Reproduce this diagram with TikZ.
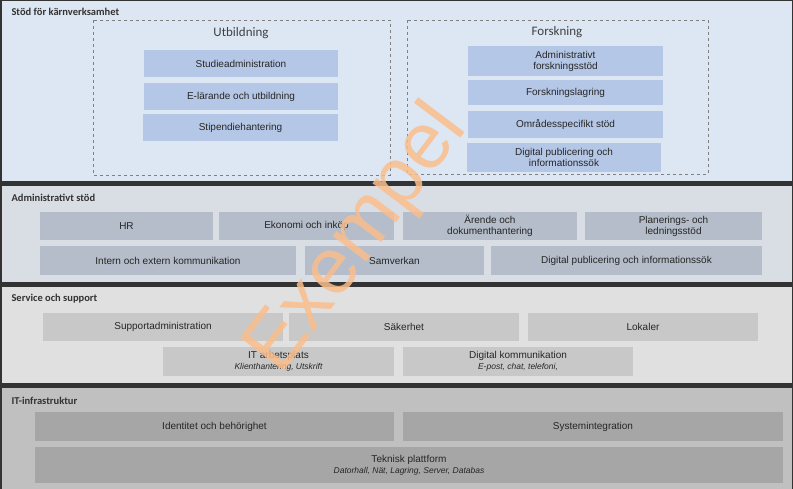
\documentclass[tikz,border=0pt]{standalone}
\usepackage{fontspec}
\setmainfont{Liberation Sans}
\newfontfamily\carlfont{Carlito}
\definecolor{cbga}{RGB}{221,231,244}
\definecolor{cbgb}{RGB}{217,222,229}
\definecolor{cbgc}{RGB}{224,224,224}
\definecolor{cbgd}{RGB}{192,192,192}
\definecolor{cbu}{RGB}{181,199,230}
\definecolor{cba}{RGB}{180,189,201}
\definecolor{cbs}{RGB}{200,200,200}
\definecolor{cbi}{RGB}{166,166,166}
\definecolor{cwm}{RGB}{250,190,140}
\begin{document}
\begin{tikzpicture}[x=1pt,y=-1pt,
 seclab/.style={anchor=west,font=\carlfont\bfseries\fontsize{10.5}{12}\selectfont,text=black!80},
 bx/.style={fill=#1,draw=none},
 bt/.style={font=\fontsize{10}{11}\selectfont,align=center,text=black!85,inner sep=0pt},
 grp/.style={draw=black!50,dashed,thin},
 ttl/.style={font=\carlfont\fontsize{13}{15}\selectfont,text=black!75}]
\useasboundingbox (0,0) rectangle (793,489);
\fill[black!80] (0,0) rectangle (793,489);
\fill[cbga] (1.5,1.5) rectangle (791.5,181.5);
\fill[cbgb] (1.5,186) rectangle (791.5,282);
\fill[cbgc] (1.5,287) rectangle (791.5,383);
\fill[cbgd] (1.5,388) rectangle (791.5,489);
\node[seclab] (s1) at (8,12) {Stöd för kärnverksamhet};
\node[seclab] (s2) at (8,198) {Administrativt stöd};
\node[seclab] (s3) at (8,299) {Service och support};
\node[seclab] (s4) at (8,401) {IT-infrastruktur};
% Utbildning
\draw[grp] (93,20) rectangle (390,175);
\node[ttl] (ut) at (241,33) {Utbildning};
\path[bx=cbu] (144,50) rectangle (338,77) node[midway,bt] (u1) {Studieadministration};
\path[bx=cbu] (144,83) rectangle (338,110) node[midway,bt] (u2) {E-lärande och utbildning};
\path[bx=cbu] (143,114) rectangle (338,141) node[midway,bt] (u3) {Stipendiehantering};
% Forskning
\draw[grp] (407,20) rectangle (708,174);
\node[ttl] (fo) at (557,32) {Forskning};
\path[bx=cbu] (468,46) rectangle (663,76) node[midway,bt] (f1) {Administrativt\\forskningsstöd};
\path[bx=cbu] (468,80) rectangle (663,105) node[midway,bt] (f2) {Forskningslagring};
\path[bx=cbu] (468,111) rectangle (663,138) node[midway,bt] (f3) {Områdesspecifikt stöd};
\path[bx=cbu] (467,143) rectangle (661,172) node[midway,bt] (f4) {Digital publicering och\\informationssök};
% Admin
\path[bx=cba] (40,212) rectangle (213,240) node[midway,bt] (a1) {HR};
\path[bx=cba] (219,212) rectangle (394,240) node[midway,bt] (a2) {Ekonomi och inköp};
\path[bx=cba] (403,212) rectangle (577,240) node[midway,bt] (a3) {Ärende och\\dokumenthantering};
\path[bx=cba] (585,212) rectangle (762,240) node[midway,bt] (a4) {Planerings- och\\ledningsstöd};
\path[bx=cba] (40,246) rectangle (296,275) node[midway,bt] (a5) {Intern och extern kommunikation};
\path[bx=cba] (305,246) rectangle (484,275) node[midway,bt] (a6) {Samverkan};
\path[bx=cba] (491,246) rectangle (762,275) node[midway,bt] (a7) {Digital publicering och informationssök};
% Service
\path[bx=cbs] (43,313) rectangle (283,341) node[midway,bt] (s31) {Supportadministration};
\path[bx=cbs] (289,313) rectangle (519,341) node[midway,bt] (s32) {Säkerhet};
\path[bx=cbs] (528,313) rectangle (758,341) node[midway,bt] (s33) {Lokaler};
\path[bx=cbs] (163,347) rectangle (394,376) node[midway,bt] (s34) {IT arbetsplats\\{\itshape\fontsize{8.5}{9}\selectfont Klienthantering, Utskrift}};
\path[bx=cbs] (403,347) rectangle (633,376) node[midway,bt] (s35) {Digital kommunikation\\{\itshape\fontsize{8.5}{9}\selectfont E-post, chat, telefoni,}};
% IT
\path[bx=cbi] (35,412) rectangle (394,441) node[midway,bt] (i1) {Identitet och behörighet};
\path[bx=cbi] (403,412) rectangle (783,441) node[midway,bt] (i2) {Systemintegration};
\path[bx=cbi] (35,447) rectangle (783,483) node[midway,bt] (i3) {Teknisk plattform\\{\itshape\fontsize{8.5}{9}\selectfont Datorhall, Nät, Lagring, Server, Databas}};
% watermark
\node[rotate=53,font=\fontsize{80}{90}\selectfont,text=cwm,opacity=0.85] (wm) at (358,240) {Exempel};
\end{tikzpicture}
\end{document}
